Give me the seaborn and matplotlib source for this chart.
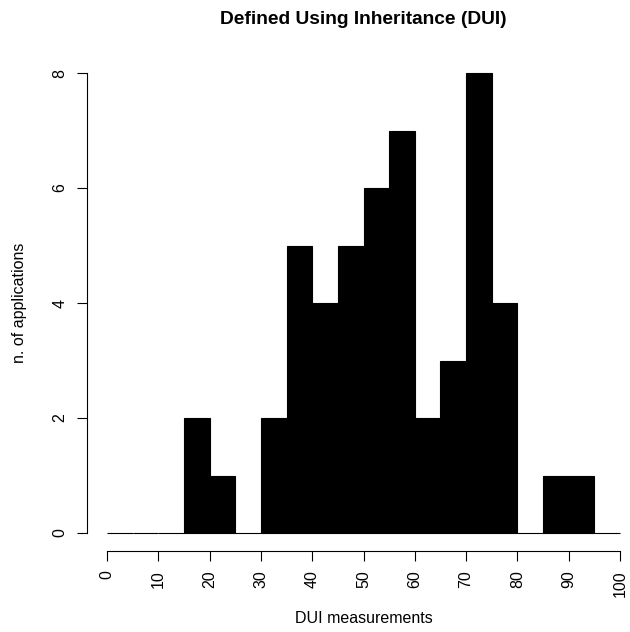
import matplotlib
matplotlib.use("Agg")
import matplotlib.pyplot as plt
import seaborn as sns
import numpy as np

# ---- data ----
bin_edges = [0, 5, 10, 15, 20, 25, 30, 35, 40, 45, 50, 55, 60, 65, 70, 75, 80, 85, 90, 95, 100]
counts = [0, 0, 0, 2, 1, 0, 2, 5, 4, 5, 6, 7, 2, 3, 8, 4, 0, 1, 1, 0]
x_ticks = [0, 10, 20, 30, 40, 50, 60, 70, 80, 90, 100]
y_ticks = [0, 2, 4, 6, 8]
title = "Defined Using Inheritance (DUI)"
x_label = "DUI measurements"
y_label = "n. of applications"

sns.set_style("white")
plt.rcParams["font.family"] = ["Liberation Sans", "DejaVu Sans"]
plt.rcParams["text.color"] = "black"
plt.rcParams["axes.labelcolor"] = "black"
fs = 11.5

W, H = 630, 632
fig = plt.figure(figsize=(W / 100, H / 100), dpi=100)
left, right, top, bottom = 86.5, 640.5, 54.6, 551.4
ax = fig.add_axes([left / W, (H - bottom) / H, (right - left) / W, (bottom - top) / H])

centers = [(a + b) / 2 for a, b in zip(bin_edges[:-1], bin_edges[1:])]
sns.histplot(x=centers, weights=counts, bins=bin_edges, color="black",
             edgecolor="black", linewidth=0.8, alpha=1, ax=ax)

ax.set_xlim(-4, 104)
ax.set_ylim(-0.32, 8.32)
ax.set_xticks(x_ticks)
ax.set_yticks(y_ticks)
ax.set_xticklabels([str(t) for t in x_ticks], rotation=90, fontsize=fs)
ax.set_yticklabels([str(t) for t in y_ticks], rotation=90, fontsize=fs, va="center")
ax.tick_params(axis="both", direction="out", length=6.9, width=0.8, pad=6.9,
               color="black", labelcolor="black", bottom=True, left=True)

for s in ["top", "right"]:
    ax.spines[s].set_visible(False)
for s in ["left", "bottom"]:
    ax.spines[s].set_color("black")
    ax.spines[s].set_linewidth(0.8)
ax.spines["left"].set_bounds(0, 8)
ax.spines["bottom"].set_bounds(0, 100)

ax.set_xlabel(x_label, fontsize=fs, color="black")
ax.set_ylabel(y_label, fontsize=fs, color="black")
ax.xaxis.set_label_coords(0.5, -(611 - bottom) / (bottom - top))
ax.xaxis.label.set_va("top")
ax.yaxis.set_label_coords((27 - left) / (right - left), 0.5)

fig.text((left + right) / 2 / W, 1 - 24 / H, title, ha="center", va="baseline",
         fontsize=13.8, fontweight="bold", color="black")

fig.savefig("out.png", dpi=100)
